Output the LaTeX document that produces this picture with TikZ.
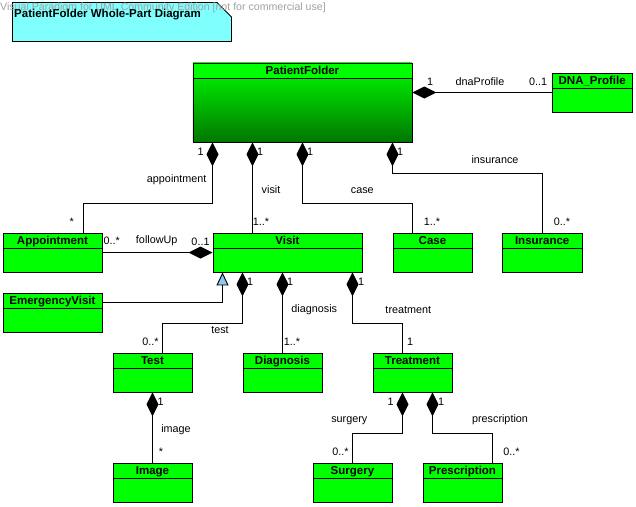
\documentclass[tikz,border=0pt]{standalone}
\usepackage{fontspec}
\setmainfont{Liberation Sans}
\usetikzlibrary{arrows.meta}

\definecolor{umlgreen}{RGB}{0,255,0}
\definecolor{deepgreen}{RGB}{0,118,0}
\definecolor{notecyan}{RGB}{128,255,255}
\definecolor{genblue}{RGB}{140,200,240}
\definecolor{wmgray}{RGB}{160,160,160}

\tikzset{
	cls/.style={draw, fill=umlgreen, line width=0.9pt, anchor=north west, inner sep=0pt,
		minimum width=79pt, minimum height=39pt},
	hdr/.style={draw, fill=umlgreen, line width=0.9pt, anchor=north, inner sep=0pt,
		minimum height=15pt, text height=8.3pt, text depth=0pt,
		font=\fontsize{11.5}{13}\selectfont\bfseries},
	lbl/.style={inner sep=0pt, text height=7.7pt, text depth=0pt,
		font=\fontsize{10.8}{12}\selectfont},
	comp/.style={{Diamond[length=24pt,width=12pt]}-, line width=0.9pt},
	gen/.style={-{Triangle[length=13pt,width=12pt,fill=genblue]}, line width=0.9pt},
}

\begin{document}
\begin{tikzpicture}[x=1pt, y=-1pt]
		\useasboundingbox (0,0) rectangle (636,506);
		
		\draw[fill=notecyan, line width=0.9pt] (12.5,2.5) -- (217,2.5) -- (231.5,17) -- (231.5,41.5) -- (12.5,41.5) -- cycle;
		\node[lbl, anchor=west, text=wmgray, font=\fontsize{10.6}{12}\selectfont] (wm) at (0,7) {Visual Paradigm for UML Community Edition [not for commercial use]};
		\node[lbl, anchor=west, text height=8.3pt, font=\fontsize{11.5}{13}\selectfont\bfseries] (title) at (14,13.5) {PatientFolder Whole-Part Diagram};
		
		\node[cls, minimum width=219pt, minimum height=79pt, top color=umlgreen, bottom color=deepgreen] (pf) at (192.5,62.5) {};
		\node[hdr, minimum width=219pt] (pfh) at (pf.north) {PatientFolder};
		\node[cls, minimum width=79.5pt] (dna) at (552,72.5) {};
		\node[hdr, minimum width=79.5pt] (dnah) at (dna.north) {DNA\_Profile};
		
		\node[cls, minimum width=99pt] (appt) at (2.5,232.5) {};
		\node[hdr, minimum width=99pt] (appth) at (appt.north) {Appointment};
		\node[cls, minimum width=149pt] (visit) at (212.5,232.5) {};
		\node[hdr, minimum width=149pt] (visith) at (visit.north) {Visit};
		\node[cls] (case) at (392.5,232.5) {};
		\node[hdr, minimum width=79pt] (caseh) at (case.north) {Case};
		\node[cls, minimum width=79.5pt] (ins) at (502,232.5) {};
		\node[hdr, minimum width=79.5pt] (insh) at (ins.north) {Insurance};
		\node[cls, minimum width=99pt] (emerg) at (2.5,292.5) {};
		\node[hdr, minimum width=99pt] (emergh) at (emerg.north) {EmergencyVisit};
		
		\node[cls] (test) at (112.5,352.5) {};
		\node[hdr, minimum width=79pt] (testh) at (test.north) {Test};
		\node[cls] (diag) at (242.5,352.5) {};
		\node[hdr, minimum width=79pt] (diagh) at (diag.north) {Diagnosis};
		\node[cls] (treat) at (372.5,352.5) {};
		\node[hdr, minimum width=79pt] (treath) at (treat.north) {Treatment};
		
		\node[cls] (image) at (112.5,462.5) {};
		\node[hdr, minimum width=79pt] (imageh) at (image.north) {Image};
		\node[cls] (surg) at (312.5,462.5) {};
		\node[hdr, minimum width=79pt] (surgh) at (surg.north) {Surgery};
		\node[cls] (presc) at (422.5,462.5) {};
		\node[hdr, minimum width=79pt] (presch) at (presc.north) {Prescription};
		
		% labels
		\node[lbl] (dnaone) at (430,82) {1};
		\node[lbl] (dnarole) at (480,82) {dnaProfile};
		\node[lbl] (dnamult) at (538,82) {0..1};
		\node[lbl] (apptone) at (200.7,152) {1};
		\node[lbl] (visitone) at (260,152) {1};
		\node[lbl] (caseone) at (310,152) {1};
		\node[lbl] (insone) at (400,152) {1};
		\node[lbl] (apptrole) at (176.7,179) {appointment};
		\node[lbl] (visitrole) at (271,190) {visit};
		\node[lbl] (caserole) at (362.3,190) {case};
		\node[lbl] (insrole) at (495,160) {insurance};
		\node[lbl] (apptmult) at (71.7,222) {*};
		\node[lbl] (visitmult) at (261,222) {1..*};
		\node[lbl] (casemult) at (432,222) {1..*};
		\node[lbl] (insmult) at (562,222) {0..*};
		\node[lbl] (fupmult) at (111.7,241) {0..*};
		\node[lbl] (fuprole) at (156.7,240) {followUp};
		\node[lbl] (fupone) at (200.5,242) {0..1};
		
		\node[lbl] (testone) at (250,282) {1};
		\node[lbl] (diagone) at (290,282) {1};
		\node[lbl] (treatone) at (361,282) {1};
		\node[lbl] (testrole) at (220,330) {test};
		\node[lbl] (diagrole) at (314.3,309) {diagnosis};
		\node[lbl] (treatrole) at (408.3,310) {treatment};
		\node[lbl] (testmult) at (150.5,342) {0..*};
		\node[lbl] (diagmult) at (292,342) {1..*};
		\node[lbl] (treatmult) at (410,342) {1};
		
		\node[lbl] (imageone) at (160.7,401.7) {1};
		\node[lbl] (imagerole) at (176,429) {image};
		\node[lbl] (imagemult) at (161,452) {*};
		\node[lbl] (surgone) at (390.7,401.7) {1};
		\node[lbl] (prescone) at (441,401.7) {1};
		\node[lbl] (surgrole) at (349.3,419) {surgery};
		\node[lbl] (prescrole) at (500,419) {prescription};
		\node[lbl] (surgmult) at (340.5,452) {0..*};
		\node[lbl] (prescmult) at (511.5,452) {0..*};
		
		% connectors
		\draw[comp] ([yshift=-30pt]pf.north east) -- ([yshift=-20pt]dna.north west);
		\draw[comp] ([xshift=20pt]pf.south west) -- ++(0,61) -| ([xshift=30.5pt]appt.north);
		\draw[comp] ([xshift=60pt]pf.south west) -- ([xshift=40pt]visit.north west);
		\draw[comp] ([xshift=110pt]pf.south west) -- ++(0,61) -| ([xshift=20pt]case.north west);
		\draw[comp] ([xshift=200pt]pf.south west) -- ++(0,31) -| ([xshift=40pt]ins.north west);
		\draw[comp] ([yshift=-20pt]visit.north west) -- ([yshift=-20pt]appt.north east);
		\draw[gen] ([yshift=-10pt]emerg.north east) -| ([xshift=10pt]visit.south west);
		\draw[comp] ([xshift=30pt]visit.south west) -- ++(0,51) -| ([xshift=50pt]test.north west);
		\draw[comp] ([xshift=70pt]visit.south west) -- ([xshift=40pt]diag.north west);
		\draw[comp] ([xshift=140pt]visit.south west) -- ++(0,51) -| ([xshift=30pt]treat.north west);
		\draw[comp] ([xshift=40pt]test.south west) -- ([xshift=40pt]image.north west);
		\draw[comp] ([xshift=30pt]treat.south west) -- ++(0,41) -| ([xshift=40pt]surg.north west);
		\draw[comp] ([xshift=60pt]treat.south west) -- ++(0,41) -| ([xshift=70pt]presc.north west);
	\end{tikzpicture}
\end{document}
